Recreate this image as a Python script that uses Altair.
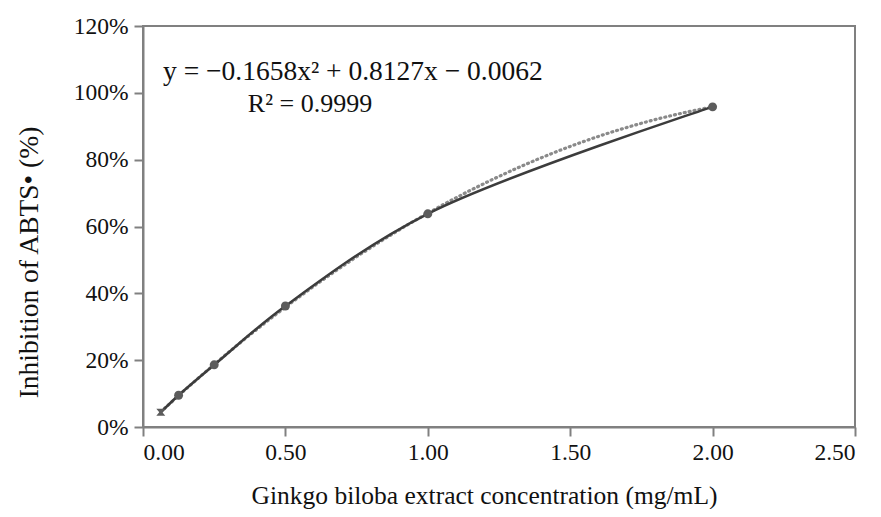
import altair as alt
import pandas as pd

conc = [0.0625, 0.125, 0.25, 0.5, 1.0, 2.0]
inhibition = [0.044, 0.095, 0.186, 0.362, 0.638, 0.958]
shapes = ["hour", "circle", "circle", "circle", "circle", "circle"]

x_ticks = [0, 0.5, 1.0, 1.5, 2.0, 2.5]
y_ticks = [0, 0.2, 0.4, 0.6, 0.8, 1.0, 1.2]

eq_text = "y = −0.1658x² + 0.8127x − 0.0062"
r2_text = "R² = 0.9999"

df = pd.DataFrame({"x": conc, "y": inhibition, "shape": shapes})

FONT = "Liberation Serif"

xs = alt.Scale(domain=[0, 2.5], nice=False, zero=False)
ys = alt.Scale(domain=[0, 1.2], nice=False)

xax = alt.Axis(values=x_ticks, format=".2f", title="Ginkgo biloba extract concentration (mg/mL)",
               grid=False, domainColor="#808080", domainWidth=2, tickColor="#808080",
               tickWidth=2, tickSize=9, labelFont=FONT, labelFontSize=23.5, labelColor="#111",
               titleFont=FONT, titleFontSize=25.5, titleFontWeight="normal", titleColor="#111",
               labelPadding=4, titleX=341, titleY=68, titleBaseline="middle")
yax = alt.Axis(values=y_ticks, format=".0%", title="Inhibition of ABTS• (%)",
               grid=False, domainColor="#808080", domainWidth=2, tickColor="#808080",
               tickWidth=2, tickSize=9, labelFont=FONT, labelFontSize=23.5, labelColor="#111",
               titleFont=FONT, titleFontSize=27.5, titleFontWeight="normal", titleColor="#111",
               labelPadding=6, titleX=-114, titleY=236, titleAngle=-90,
               titleAlign="center", titleBaseline="middle")

base = alt.Chart(df)

trend = base.transform_regression("x", "y", method="poly", order=2).mark_line(
    color="#8a8a8a", strokeWidth=3.2, strokeDash=[1, 4], strokeCap="round"
).encode(x=alt.X("x:Q", scale=xs, axis=xax), y=alt.Y("y:Q", scale=ys, axis=yax))

line = base.mark_line(color="#3c3c3c", strokeWidth=2.5, interpolate="catmull-rom").encode(
    x=alt.X("x:Q", scale=xs), y=alt.Y("y:Q", scale=ys)
)

pts = base.mark_point(filled=True, size=80, color="#5c5c5c", opacity=1).encode(
    x=alt.X("x:Q", scale=xs), y=alt.Y("y:Q", scale=ys),
    shape=alt.Shape("shape:N", scale=alt.Scale(domain=["hour", "circle"],
                    range=["M-1,-0.8H1L0.35,0L1,0.8H-1L-0.35,0Z", "circle"]), legend=None)
)

eq = alt.Chart(pd.DataFrame({"t": [eq_text]})).mark_text(
    font=FONT, fontSize=27.5, color="#111", align="left", baseline="middle"
).encode(text="t:N", x=alt.value(20), y=alt.value(46))

r2 = alt.Chart(pd.DataFrame({"t": [r2_text]})).mark_text(
    font=FONT, fontSize=26, color="#111", align="center", baseline="middle"
).encode(text="t:N", x=alt.value(167), y=alt.value(78))

chart = alt.layer(trend, line, pts, eq, r2).properties(
    width=712, height=401,
    autosize=alt.AutoSizeParams(type="none"),
    padding={"left": 135, "top": 18, "right": 10, "bottom": 82},
).configure_view(stroke="#808080", strokeWidth=2)

chart.save("out.html", embed_options={"renderer": "svg", "actions": False})
